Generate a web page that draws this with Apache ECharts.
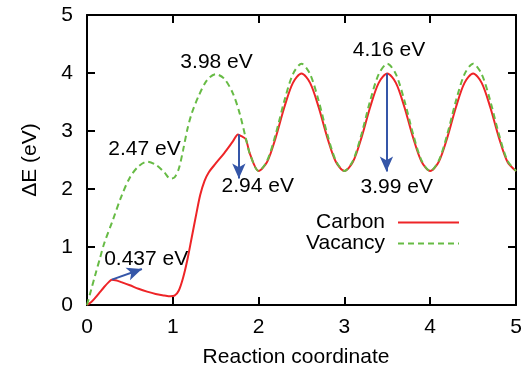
<!DOCTYPE html>
<html>
<head>
<meta charset="utf-8">
<script src="https://cdn.jsdelivr.net/npm/echarts@6/dist/echarts.min.js"></script>
<style>html,body{margin:0;padding:0;background:#fff;}#c{width:530px;height:373px;}</style>
</head>
<body>
<div id="c"></div>
<script>
const xTicks = [0, 1, 2, 3, 4, 5];
const yTicks = [0, 1, 2, 3, 4, 5];
const carbon = [
  [0,0],[0.05,0.05],[0.1,0.13],[0.15,0.22],[0.2,0.31],[0.25,0.39],[0.29,0.437],[0.35,0.42],[0.4,0.395],
  [0.5,0.34],[0.6,0.28],[0.7,0.23],[0.8,0.19],[0.9,0.165],[0.97,0.15],[1.02,0.16],[1.07,0.25],[1.12,0.47],
  [1.17,0.78],[1.22,1.16],[1.27,1.54],[1.32,1.9],[1.37,2.14],[1.42,2.29],[1.5,2.44],[1.6,2.62],[1.7,2.82],
  [1.76,2.94],[1.8,2.91],[1.85,2.86],[1.9,2.6],[2.0,2.31],
  [2.1,2.47],[2.2,2.89],[2.3,3.41],[2.4,3.83],[2.5,3.99],[2.6,3.83],[2.7,3.41],[2.8,2.89],[2.9,2.47],[3.0,2.31],
  [3.1,2.47],[3.2,2.89],[3.3,3.41],[3.4,3.83],[3.5,3.99],[3.6,3.83],[3.7,3.41],[3.8,2.89],[3.9,2.47],[4.0,2.31],
  [4.1,2.47],[4.2,2.89],[4.3,3.41],[4.4,3.83],[4.5,3.99],[4.6,3.83],[4.7,3.41],[4.8,2.89],[4.9,2.47],[5.0,2.31]
];
const vacancy = [
  [0,0],[0.05,0.27],[0.1,0.54],[0.15,0.8],[0.2,1.06],[0.3,1.46],[0.4,1.87],[0.5,2.2],[0.6,2.39],[0.7,2.47],
  [0.8,2.42],[0.9,2.29],[0.97,2.18],[1.02,2.2],[1.07,2.35],[1.12,2.67],[1.17,3.03],[1.22,3.3],[1.3,3.6],
  [1.4,3.88],[1.5,3.98],[1.6,3.9],[1.7,3.65],[1.78,3.3],[1.85,2.88],[1.9,2.6],[2.0,2.31],
  [2.1,2.49],[2.2,2.95],[2.3,3.52],[2.4,3.98],[2.5,4.16],[2.6,3.98],[2.7,3.52],[2.8,2.95],[2.9,2.49],[3.0,2.31],
  [3.1,2.49],[3.2,2.95],[3.3,3.52],[3.4,3.98],[3.5,4.16],[3.6,3.98],[3.7,3.52],[3.8,2.95],[3.9,2.49],[4.0,2.31],
  [4.1,2.49],[4.2,2.95],[4.3,3.52],[4.4,3.98],[4.5,4.16],[4.6,3.98],[4.7,3.52],[4.8,2.95],[4.9,2.49],[5.0,2.31]
];
const arrows = [
  [[0.29,0.437],[0.64,0.62]],
  [[1.77,2.94],[1.77,2.18]],
  [[3.49,3.99],[3.49,2.30]]
];
const annotations = [
  [0.69,0.79,'0.437 eV'],
  [0.67,2.69,'2.47 eV'],
  [1.51,4.18,'3.98 eV'],
  [1.99,2.04,'2.94 eV'],
  [3.52,4.39,'4.16 eV'],
  [3.61,2.03,'3.99 eV']
];
const seriesNames = ['Carbon', 'Vacancy'];

const FONT = 'Liberation Sans, Arial, Helvetica, sans-serif';
const FS = 21;
const chart = echarts.init(document.getElementById('c'), null, {renderer: 'canvas'});
const axisCommon = {
  type: 'value', min: xTicks[0], max: xTicks[xTicks.length-1], interval: 1,
  axisLine: {show: true, onZero: false, lineStyle: {color: '#000', width: 2}},
  axisTick: {show: true, inside: true, length: 8, lineStyle: {color: '#000', width: 2}},
  splitLine: {show: false}
};
const yCommon = {
  type: 'value', min: yTicks[0], max: yTicks[yTicks.length-1], interval: 1,
  axisLine: {show: true, onZero: false, lineStyle: {color: '#000', width: 2}},
  axisTick: {show: true, inside: true, length: 8, lineStyle: {color: '#000', width: 2}},
  splitLine: {show: false}
};
const legendCommon = {
  orient: 'vertical', align: 'right', right: 70, padding: 0,
  itemWidth: 61, itemHeight: 14,
  itemStyle: {opacity: 0},
  textStyle: {fontSize: FS, color: '#000', fontFamily: FONT, padding: [0, 8, 0, 0]}
};
chart.setOption({
  animation: false,
  textStyle: {fontFamily: FONT},
  grid: {left: 87, right: 14, top: 15, bottom: 68},
  xAxis: [
    Object.assign({}, axisCommon, {
      position: 'bottom',
      axisLabel: {fontSize: FS, color: '#000', margin: 12, fontFamily: FONT},
      name: 'Reaction coordinate', nameLocation: 'middle', nameGap: 42,
      nameTextStyle: {fontSize: FS, color: '#000', fontFamily: FONT, padding: [0, 11, 0, 0]}
    }),
    Object.assign({}, axisCommon, {position: 'top', axisLabel: {show: false}})
  ],
  yAxis: [
    Object.assign({}, yCommon, {
      position: 'left',
      axisLabel: {fontSize: FS, color: '#000', margin: 14, fontFamily: FONT},
      name: 'ΔE (eV)', nameLocation: 'middle', nameGap: 46,
      nameTextStyle: {fontSize: FS, color: '#000', fontFamily: FONT}
    }),
    Object.assign({}, yCommon, {position: 'right', axisLabel: {show: false}})
  ],
  legend: [
    Object.assign({}, legendCommon, {data: [seriesNames[0]], top: 212}),
    Object.assign({}, legendCommon, {data: [seriesNames[1]], top: 233})
  ],
  series: [
    {
      name: seriesNames[0], type: 'line', data: carbon, smooth: 0.3, symbol: 'none',
      lineStyle: {color: '#ee2427', width: 2}, itemStyle: {color: '#ee2427'},
      markLine: {
        silent: true, symbol: ['none', 'arrow'], symbolSize: [10, 15],
        lineStyle: {color: '#3556a8', width: 2, type: 'solid'},
        label: {show: false},
        data: arrows.map(a => [{coord: a[0]}, {coord: a[1]}])
      }
    },
    {
      name: seriesNames[1], type: 'line', data: vacancy, smooth: 0.3, symbol: 'none',
      lineStyle: {color: '#67bb45', width: 2, type: [6, 4]}, itemStyle: {color: '#67bb45'}
    },
    {
      name: 'labels', type: 'scatter', data: annotations, symbolSize: 1, silent: true,
      itemStyle: {color: 'rgba(0,0,0,0)', opacity: 1},
      label: {show: true, position: 'inside', formatter: p => p.value[2], fontSize: FS, color: '#000', opacity: 1, fontFamily: FONT}
    }
  ]
});
</script>
</body>
</html>
